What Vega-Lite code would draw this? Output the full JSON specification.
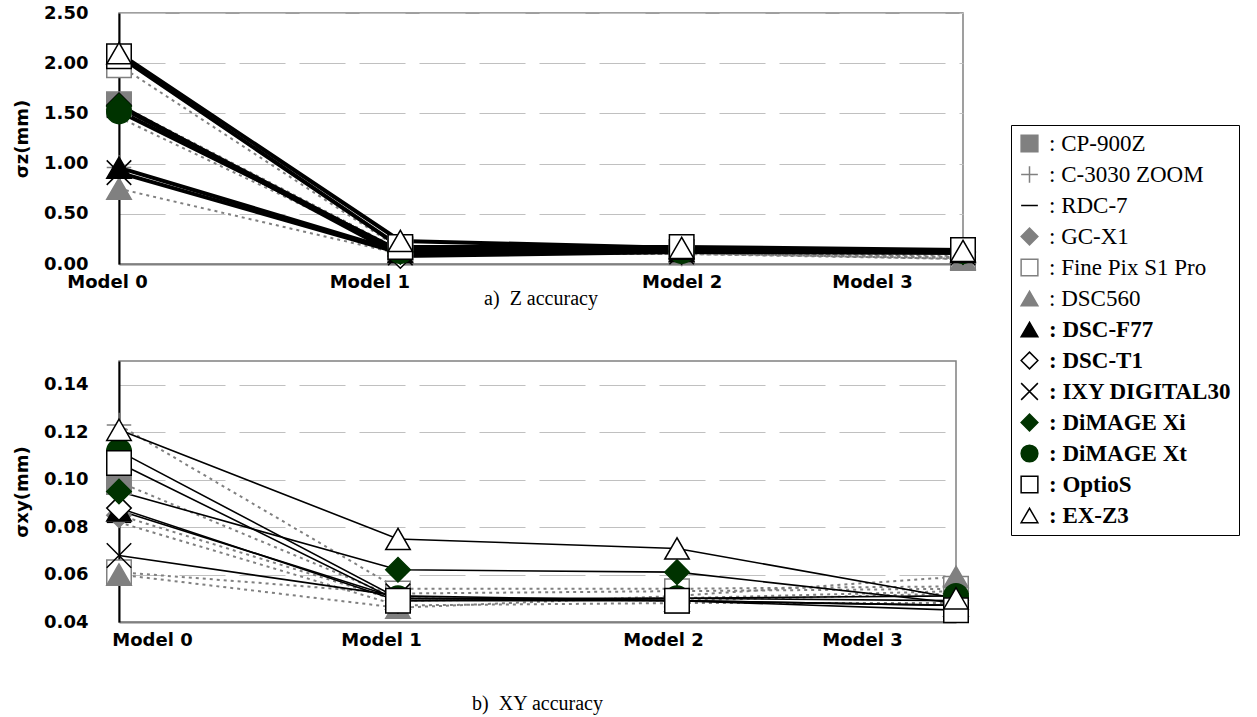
{
  "$schema": "https://vega.github.io/schema/vega-lite/v6.json",
  "padding": {"left": 12, "top": 3, "right": 0, "bottom": 0},
  "background": "white",
  "datasets": {
    "z": [
      {"camera": "CP-900Z", "grp": "old", "model": 0, "v": 1.59}, {"camera": "CP-900Z", "grp": "old", "model": 1, "v": 0.14}, {"camera": "CP-900Z", "grp": "old", "model": 2, "v": 0.12}, {"camera": "CP-900Z", "grp": "old", "model": 3, "v": 0.08},
      {"camera": "C-3030 ZOOM", "grp": "old", "model": 0, "v": 0.96}, {"camera": "C-3030 ZOOM", "grp": "old", "model": 1, "v": 0.11}, {"camera": "C-3030 ZOOM", "grp": "old", "model": 2, "v": 0.10}, {"camera": "C-3030 ZOOM", "grp": "old", "model": 3, "v": 0.06},
      {"camera": "RDC-7", "grp": "old", "model": 0, "v": 1.46}, {"camera": "RDC-7", "grp": "old", "model": 1, "v": 0.12}, {"camera": "RDC-7", "grp": "old", "model": 2, "v": 0.11}, {"camera": "RDC-7", "grp": "old", "model": 3, "v": 0.05},
      {"camera": "GC-X1", "grp": "old", "model": 0, "v": 1.54}, {"camera": "GC-X1", "grp": "old", "model": 1, "v": 0.13}, {"camera": "GC-X1", "grp": "old", "model": 2, "v": 0.11}, {"camera": "GC-X1", "grp": "old", "model": 3, "v": 0.07},
      {"camera": "Fine Pix S1 Pro", "grp": "old", "model": 0, "v": 1.98}, {"camera": "Fine Pix S1 Pro", "grp": "old", "model": 1, "v": 0.15}, {"camera": "Fine Pix S1 Pro", "grp": "old", "model": 2, "v": 0.12}, {"camera": "Fine Pix S1 Pro", "grp": "old", "model": 3, "v": 0.06},
      {"camera": "DSC560", "grp": "old", "model": 0, "v": 0.75}, {"camera": "DSC560", "grp": "old", "model": 1, "v": 0.10}, {"camera": "DSC560", "grp": "old", "model": 2, "v": 0.10}, {"camera": "DSC560", "grp": "old", "model": 3, "v": 0.05},
      {"camera": "DSC-F77", "grp": "new", "model": 0, "v": 0.96}, {"camera": "DSC-F77", "grp": "new", "model": 1, "v": 0.12}, {"camera": "DSC-F77", "grp": "new", "model": 2, "v": 0.13}, {"camera": "DSC-F77", "grp": "new", "model": 3, "v": 0.12},
      {"camera": "DSC-T1", "grp": "new", "model": 0, "v": 1.58}, {"camera": "DSC-T1", "grp": "new", "model": 1, "v": 0.08}, {"camera": "DSC-T1", "grp": "new", "model": 2, "v": 0.12}, {"camera": "DSC-T1", "grp": "new", "model": 3, "v": 0.12},
      {"camera": "IXY DIGITAL30", "grp": "new", "model": 0, "v": 0.91}, {"camera": "IXY DIGITAL30", "grp": "new", "model": 1, "v": 0.11}, {"camera": "IXY DIGITAL30", "grp": "new", "model": 2, "v": 0.12}, {"camera": "IXY DIGITAL30", "grp": "new", "model": 3, "v": 0.11},
      {"camera": "DiMAGE Xi", "grp": "new", "model": 0, "v": 1.57}, {"camera": "DiMAGE Xi", "grp": "new", "model": 1, "v": 0.12}, {"camera": "DiMAGE Xi", "grp": "new", "model": 2, "v": 0.13}, {"camera": "DiMAGE Xi", "grp": "new", "model": 3, "v": 0.12},
      {"camera": "DiMAGE Xt", "grp": "new", "model": 0, "v": 1.52}, {"camera": "DiMAGE Xt", "grp": "new", "model": 1, "v": 0.13}, {"camera": "DiMAGE Xt", "grp": "new", "model": 2, "v": 0.13}, {"camera": "DiMAGE Xt", "grp": "new", "model": 3, "v": 0.13},
      {"camera": "OptioS", "grp": "new", "model": 0, "v": 2.07}, {"camera": "OptioS", "grp": "new", "model": 1, "v": 0.17}, {"camera": "OptioS", "grp": "new", "model": 2, "v": 0.17}, {"camera": "OptioS", "grp": "new", "model": 3, "v": 0.14},
      {"camera": "EX-Z3", "grp": "new", "model": 0, "v": 2.10}, {"camera": "EX-Z3", "grp": "new", "model": 1, "v": 0.23}, {"camera": "EX-Z3", "grp": "new", "model": 2, "v": 0.16}, {"camera": "EX-Z3", "grp": "new", "model": 3, "v": 0.13}
    ],
    "xy": [
      {"camera": "CP-900Z", "grp": "old", "model": 0, "v": 0.099}, {"camera": "CP-900Z", "grp": "old", "model": 1, "v": 0.050}, {"camera": "CP-900Z", "grp": "old", "model": 2, "v": 0.049}, {"camera": "CP-900Z", "grp": "old", "model": 3, "v": 0.052},
      {"camera": "C-3030 ZOOM", "grp": "old", "model": 0, "v": 0.123}, {"camera": "C-3030 ZOOM", "grp": "old", "model": 1, "v": 0.054}, {"camera": "C-3030 ZOOM", "grp": "old", "model": 2, "v": 0.054}, {"camera": "C-3030 ZOOM", "grp": "old", "model": 3, "v": 0.055},
      {"camera": "RDC-7", "grp": "old", "model": 0, "v": 0.082}, {"camera": "RDC-7", "grp": "old", "model": 1, "v": 0.047}, {"camera": "RDC-7", "grp": "old", "model": 2, "v": 0.048}, {"camera": "RDC-7", "grp": "old", "model": 3, "v": 0.048},
      {"camera": "GC-X1", "grp": "old", "model": 0, "v": 0.085}, {"camera": "GC-X1", "grp": "old", "model": 1, "v": 0.049}, {"camera": "GC-X1", "grp": "old", "model": 2, "v": 0.050}, {"camera": "GC-X1", "grp": "old", "model": 3, "v": 0.053},
      {"camera": "Fine Pix S1 Pro", "grp": "old", "model": 0, "v": 0.061}, {"camera": "Fine Pix S1 Pro", "grp": "old", "model": 1, "v": 0.052}, {"camera": "Fine Pix S1 Pro", "grp": "old", "model": 2, "v": 0.053}, {"camera": "Fine Pix S1 Pro", "grp": "old", "model": 3, "v": 0.054},
      {"camera": "DSC560", "grp": "old", "model": 0, "v": 0.060}, {"camera": "DSC560", "grp": "old", "model": 1, "v": 0.046}, {"camera": "DSC560", "grp": "old", "model": 2, "v": 0.051}, {"camera": "DSC560", "grp": "old", "model": 3, "v": 0.059},
      {"camera": "DSC-F77", "grp": "new", "model": 0, "v": 0.087}, {"camera": "DSC-F77", "grp": "new", "model": 1, "v": 0.050}, {"camera": "DSC-F77", "grp": "new", "model": 2, "v": 0.049}, {"camera": "DSC-F77", "grp": "new", "model": 3, "v": 0.047},
      {"camera": "DSC-T1", "grp": "new", "model": 0, "v": 0.088}, {"camera": "DSC-T1", "grp": "new", "model": 1, "v": 0.049}, {"camera": "DSC-T1", "grp": "new", "model": 2, "v": 0.050}, {"camera": "DSC-T1", "grp": "new", "model": 3, "v": 0.049},
      {"camera": "IXY DIGITAL30", "grp": "new", "model": 0, "v": 0.068}, {"camera": "IXY DIGITAL30", "grp": "new", "model": 1, "v": 0.051}, {"camera": "IXY DIGITAL30", "grp": "new", "model": 2, "v": 0.049}, {"camera": "IXY DIGITAL30", "grp": "new", "model": 3, "v": 0.047},
      {"camera": "DiMAGE Xi", "grp": "new", "model": 0, "v": 0.095}, {"camera": "DiMAGE Xi", "grp": "new", "model": 1, "v": 0.062}, {"camera": "DiMAGE Xi", "grp": "new", "model": 2, "v": 0.061}, {"camera": "DiMAGE Xi", "grp": "new", "model": 3, "v": 0.048},
      {"camera": "DiMAGE Xt", "grp": "new", "model": 0, "v": 0.112}, {"camera": "DiMAGE Xt", "grp": "new", "model": 1, "v": 0.050}, {"camera": "DiMAGE Xt", "grp": "new", "model": 2, "v": 0.050}, {"camera": "DiMAGE Xt", "grp": "new", "model": 3, "v": 0.051},
      {"camera": "OptioS", "grp": "new", "model": 0, "v": 0.107}, {"camera": "OptioS", "grp": "new", "model": 1, "v": 0.049}, {"camera": "OptioS", "grp": "new", "model": 2, "v": 0.049}, {"camera": "OptioS", "grp": "new", "model": 3, "v": 0.045},
      {"camera": "EX-Z3", "grp": "new", "model": 0, "v": 0.121}, {"camera": "EX-Z3", "grp": "new", "model": 1, "v": 0.075}, {"camera": "EX-Z3", "grp": "new", "model": 2, "v": 0.071}, {"camera": "EX-Z3", "grp": "new", "model": 3, "v": 0.050}
    ]
  },
  "spacing": 50,
  "vconcat": [
    {
      "width": 844,
      "height": 251,
      "data": {"name": "z"},
      "title": {"text": "a)\u00a0\u00a0Z accuracy", "orient": "bottom", "anchor": "middle", "font": "Liberation Serif", "fontSize": 20, "fontWeight": "normal", "color": "black", "offset": -2},
      "encoding": {
        "x": {"field": "model", "type": "quantitative", "scale": {"domain": [0, 3], "nice": false, "zero": false},
          "axis": {"title": null, "values": [0, 1, 2, 3], "labelExpr": "'Model ' + datum.value", "grid": false, "domainColor": "#808080", "labelPadding": 9, "labelOverlap": false, "labelFlush": false, "labelBound": false,
            "labelOffset": {"expr": "datum.value == 0 ? -12 : datum.value == 1 ? -31 : datum.value == 2 ? 0 : -91"}}},
        "y": {"field": "v", "type": "quantitative", "scale": {"domain": [0, 2.5], "nice": false},
          "axis": {"title": "σz(mm)", "values": [0, 0.5, 1, 1.5, 2, 2.5], "format": ".2f", "grid": true, "gridColor": "#c0c0c0", "gridDash": [46, 14], "gridWidth": 1.2, "domainColor": "black", "labelPadding": 31, "titlePadding": 12}}
      },
      "layer": [
        {"transform": [{"filter": {"field": "grp", "equal": "old"}}], "mark": {"type": "line", "color": "#808080", "strokeWidth": 2, "strokeDash": [3, 4]}, "encoding": {"detail": {"field": "camera"}}},
        {"transform": [{"filter": {"field": "grp", "equal": "new"}}], "mark": {"type": "line", "color": "black", "strokeWidth": 4}, "encoding": {"detail": {"field": "camera"}}},
        {"mark": {"type": "point", "size": 600, "opacity": 1, "strokeWidth": 1.5},
          "encoding": {
            "shape": {"field": "camera", "type": "nominal", "scale": {"domain": ["CP-900Z","C-3030 ZOOM","RDC-7","GC-X1","Fine Pix S1 Pro","DSC560","DSC-F77","DSC-T1","IXY DIGITAL30","DiMAGE Xi","DiMAGE Xt","OptioS","EX-Z3"], "range": ["square","M-1,0H1M0,-1V1","M-1,0H1","diamond","square","triangle-up","triangle-up","diamond","M-1,-1L1,1M-1,1L1,-1","diamond","circle","square","triangle-up"]},
              "legend": {"title": null, "orient": "none", "legendX": 892, "legendY": 112, "direction": "vertical", "strokeColor": "black", "fillColor": "white", "padding": 7, "symbolSize": 280, "symbolStrokeWidth": 1.5, "symbolOpacity": 1, "labelFont": "Liberation Serif", "labelFontSize": 23, "labelColor": "black", "labelLimit": 400, "labelOffset": 8, "rowPadding": 7, "labelExpr": "':\u00a0' + datum.label",
                "encode": {"labels": {"update": {"fontWeight": {"signal": "indexof(['DSC-F77','DSC-T1','IXY DIGITAL30','DiMAGE Xi','DiMAGE Xt','OptioS','EX-Z3'], datum.value) >= 0 ? 'bold' : 'normal'"}}}}}},
            "fill": {"field": "camera", "type": "nominal", "scale": {"domain": ["CP-900Z","C-3030 ZOOM","RDC-7","GC-X1","Fine Pix S1 Pro","DSC560","DSC-F77","DSC-T1","IXY DIGITAL30","DiMAGE Xi","DiMAGE Xt","OptioS","EX-Z3"], "range": ["#808080","transparent","transparent","#808080","white","#808080","black","white","transparent","#003300","#003300","white","white"]},
              "legend": {"title": null, "orient": "none", "legendX": 892, "legendY": 112, "direction": "vertical", "strokeColor": "black", "fillColor": "white", "padding": 7, "symbolSize": 280, "symbolStrokeWidth": 1.5, "symbolOpacity": 1, "labelFont": "Liberation Serif", "labelFontSize": 23, "labelColor": "black", "labelLimit": 400, "labelOffset": 8, "rowPadding": 7, "labelExpr": "':\u00a0' + datum.label",
                "encode": {"labels": {"update": {"fontWeight": {"signal": "indexof(['DSC-F77','DSC-T1','IXY DIGITAL30','DiMAGE Xi','DiMAGE Xt','OptioS','EX-Z3'], datum.value) >= 0 ? 'bold' : 'normal'"}}}}}},
            "stroke": {"field": "camera", "type": "nominal", "scale": {"domain": ["CP-900Z","C-3030 ZOOM","RDC-7","GC-X1","Fine Pix S1 Pro","DSC560","DSC-F77","DSC-T1","IXY DIGITAL30","DiMAGE Xi","DiMAGE Xt","OptioS","EX-Z3"], "range": ["#808080","#808080","black","#808080","#808080","#808080","black","black","black","#003300","#003300","black","black"]},
              "legend": {"title": null, "orient": "none", "legendX": 892, "legendY": 112, "direction": "vertical", "strokeColor": "black", "fillColor": "white", "padding": 7, "symbolSize": 280, "symbolStrokeWidth": 1.5, "symbolOpacity": 1, "labelFont": "Liberation Serif", "labelFontSize": 23, "labelColor": "black", "labelLimit": 400, "labelOffset": 8, "rowPadding": 7, "labelExpr": "':\u00a0' + datum.label",
                "encode": {"labels": {"update": {"fontWeight": {"signal": "indexof(['DSC-F77','DSC-T1','IXY DIGITAL30','DiMAGE Xi','DiMAGE Xt','OptioS','EX-Z3'], datum.value) >= 0 ? 'bold' : 'normal'"}}}}}}
          }
        }
      ]
    },
    {
      "width": 837,
      "height": 261,
      "data": {"name": "xy"},
      "title": {"text": "b)\u00a0\u00a0XY accuracy", "orient": "bottom", "anchor": "middle", "font": "Liberation Serif", "fontSize": 20, "fontWeight": "normal", "color": "black", "offset": 45},
      "encoding": {
        "x": {"field": "model", "type": "quantitative", "scale": {"domain": [0, 3], "nice": false, "zero": false},
          "axis": {"title": null, "values": [0, 1, 2, 3], "labelExpr": "'Model ' + datum.value", "grid": false, "domainColor": "#808080", "labelPadding": 9, "labelOverlap": false, "labelFlush": false, "labelBound": false,
            "labelOffset": {"expr": "datum.value == 0 ? 33 : datum.value == 1 ? -17 : datum.value == 2 ? -14 : -94"}}},
        "y": {"field": "v", "type": "quantitative", "scale": {"domain": [0.04, 0.15], "nice": false, "zero": false},
          "axis": {"title": "σxy(mm)", "values": [0.04, 0.06, 0.08, 0.1, 0.12, 0.14], "format": ".2f", "grid": true, "gridColor": "#c0c0c0", "gridDash": [46, 14], "gridWidth": 1.2, "domainColor": "black", "labelPadding": 31, "titlePadding": 12}}
      },
      "layer": [
        {"transform": [{"filter": {"field": "grp", "equal": "old"}}], "mark": {"type": "line", "color": "#808080", "strokeWidth": 2, "strokeDash": [3, 4]}, "encoding": {"detail": {"field": "camera"}}},
        {"transform": [{"filter": {"field": "grp", "equal": "new"}}], "mark": {"type": "line", "color": "black", "strokeWidth": 1.6}, "encoding": {"detail": {"field": "camera"}}},
        {"mark": {"type": "point", "size": 600, "opacity": 1, "strokeWidth": 1.5},
          "encoding": {
            "shape": {"field": "camera", "type": "nominal", "scale": {"domain": ["CP-900Z","C-3030 ZOOM","RDC-7","GC-X1","Fine Pix S1 Pro","DSC560","DSC-F77","DSC-T1","IXY DIGITAL30","DiMAGE Xi","DiMAGE Xt","OptioS","EX-Z3"], "range": ["square","M-1,0H1M0,-1V1","M-1,0H1","diamond","square","triangle-up","triangle-up","diamond","M-1,-1L1,1M-1,1L1,-1","diamond","circle","square","triangle-up"]},
              "legend": {"title": null, "orient": "none", "legendX": 892, "legendY": 112, "direction": "vertical", "strokeColor": "black", "fillColor": "white", "padding": 7, "symbolSize": 280, "symbolStrokeWidth": 1.5, "symbolOpacity": 1, "labelFont": "Liberation Serif", "labelFontSize": 23, "labelColor": "black", "labelLimit": 400, "labelOffset": 8, "rowPadding": 7, "labelExpr": "':\u00a0' + datum.label",
                "encode": {"labels": {"update": {"fontWeight": {"signal": "indexof(['DSC-F77','DSC-T1','IXY DIGITAL30','DiMAGE Xi','DiMAGE Xt','OptioS','EX-Z3'], datum.value) >= 0 ? 'bold' : 'normal'"}}}}}},
            "fill": {"field": "camera", "type": "nominal", "scale": {"domain": ["CP-900Z","C-3030 ZOOM","RDC-7","GC-X1","Fine Pix S1 Pro","DSC560","DSC-F77","DSC-T1","IXY DIGITAL30","DiMAGE Xi","DiMAGE Xt","OptioS","EX-Z3"], "range": ["#808080","transparent","transparent","#808080","white","#808080","black","white","transparent","#003300","#003300","white","white"]},
              "legend": {"title": null, "orient": "none", "legendX": 892, "legendY": 112, "direction": "vertical", "strokeColor": "black", "fillColor": "white", "padding": 7, "symbolSize": 280, "symbolStrokeWidth": 1.5, "symbolOpacity": 1, "labelFont": "Liberation Serif", "labelFontSize": 23, "labelColor": "black", "labelLimit": 400, "labelOffset": 8, "rowPadding": 7, "labelExpr": "':\u00a0' + datum.label",
                "encode": {"labels": {"update": {"fontWeight": {"signal": "indexof(['DSC-F77','DSC-T1','IXY DIGITAL30','DiMAGE Xi','DiMAGE Xt','OptioS','EX-Z3'], datum.value) >= 0 ? 'bold' : 'normal'"}}}}}},
            "stroke": {"field": "camera", "type": "nominal", "scale": {"domain": ["CP-900Z","C-3030 ZOOM","RDC-7","GC-X1","Fine Pix S1 Pro","DSC560","DSC-F77","DSC-T1","IXY DIGITAL30","DiMAGE Xi","DiMAGE Xt","OptioS","EX-Z3"], "range": ["#808080","#808080","black","#808080","#808080","#808080","black","black","black","#003300","#003300","black","black"]},
              "legend": {"title": null, "orient": "none", "legendX": 892, "legendY": 112, "direction": "vertical", "strokeColor": "black", "fillColor": "white", "padding": 7, "symbolSize": 280, "symbolStrokeWidth": 1.5, "symbolOpacity": 1, "labelFont": "Liberation Serif", "labelFontSize": 23, "labelColor": "black", "labelLimit": 400, "labelOffset": 8, "rowPadding": 7, "labelExpr": "':\u00a0' + datum.label",
                "encode": {"labels": {"update": {"fontWeight": {"signal": "indexof(['DSC-F77','DSC-T1','IXY DIGITAL30','DiMAGE Xi','DiMAGE Xt','OptioS','EX-Z3'], datum.value) >= 0 ? 'bold' : 'normal'"}}}}}}
          }
        }
      ]
    }
  ],
  "config": {
    "view": {"stroke": "#808080", "strokeWidth": 1.5},
    "axis": {"labelFont": "DejaVu Sans", "labelFontWeight": "bold", "labelFontSize": 18, "labelColor": "black", "titleFont": "DejaVu Sans", "titleFontWeight": "bold", "titleFontSize": 18, "titleColor": "black", "ticks": false, "domainWidth": 2}
  }
}
